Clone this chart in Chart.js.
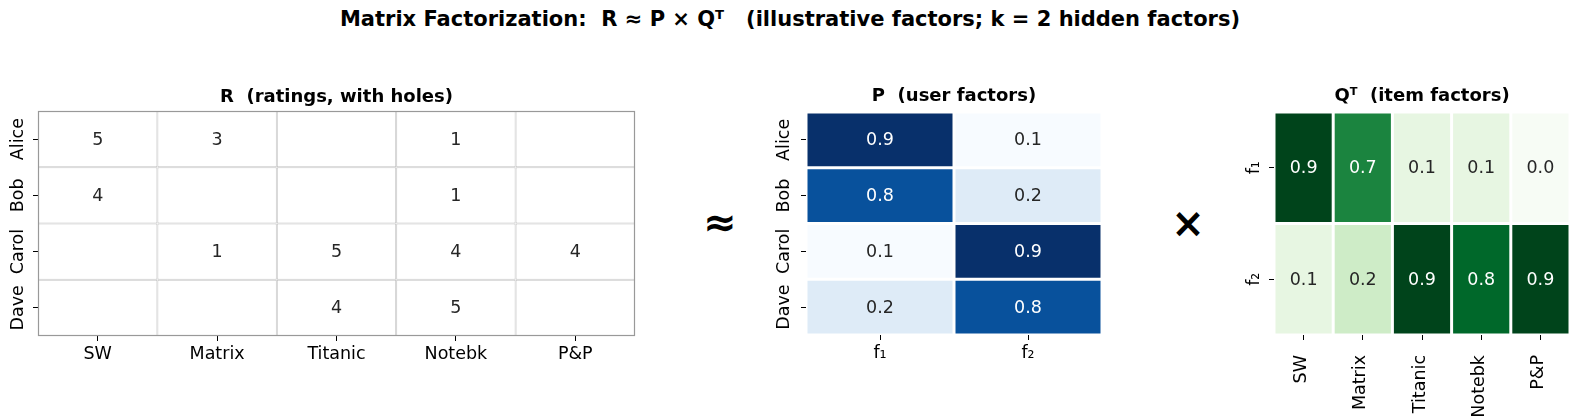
<!DOCTYPE html>
<html>
<head>
<meta charset="utf-8">
<script src="https://cdn.jsdelivr.net/npm/chart.js@4"></script>
<style>
  body { margin: 0; background: #fff; }
  #fig { position: relative; width: 1580px; height: 420px; font-family: "DejaVu Sans", sans-serif; color: #000; }
  .panel { position: absolute; top: 60px; }
  .suptitle { position: absolute; left: 0; top: 7px; width: 1580px; text-align: center; font-weight: bold; font-size: 21px; line-height: 24px; white-space: pre; }
  .op { position: absolute; transform: translate(-50%, -50%); font-weight: bold; font-size: 40px; line-height: 1; }
</style>
</head>
<body>
<div id="fig">
  <div class="suptitle">Matrix Factorization:  R ≈ P × Qᵀ   (illustrative factors; k = 2 hidden factors)</div>
  <div class="op" style="left:720px; top:222px;">≈</div>
  <div class="op" style="left:1188px; top:223px;">×</div>
  <canvas id="rChart" class="panel" width="660" height="360" style="left:0px"></canvas>
  <canvas id="pChart" class="panel" width="440" height="360" style="left:680px"></canvas>
  <canvas id="qChart" class="panel" width="440" height="360" style="left:1140px"></canvas>
</div>
<script>
// Data
const items = ['SW', 'Matrix', 'Titanic', 'Notebk', 'P&P'];
const users = ['Alice', 'Bob', 'Carol', 'Dave'];
const factors = ['f₁', 'f₂'];

// R: observed ratings, null = hole
const ratingsAlice = [5, 3, null, 1, null];
const ratingsBob   = [4, null, null, 1, null];
const ratingsCarol = [null, 1, 5, 4, 4];
const ratingsDave  = [null, null, 4, 5, null];

// P: user factors (f1, f2)
const pAlice = [0.9, 0.1];
const pBob   = [0.8, 0.2];
const pCarol = [0.1, 0.9];
const pDave  = [0.2, 0.8];

// Q transposed: item factors per factor row
const qF1 = [0.9, 0.7, 0.1, 0.1, 0.0];
const qF2 = [0.1, 0.2, 0.9, 0.8, 0.9];

// colormaps (matplotlib Blues / Greens stops)
const BLUES = ['#f7fbff', '#deebf7', '#c6dbef', '#9ecae1', '#6baed6', '#4292c6', '#2171b5', '#08519c', '#08306b'];
const GREENS = ['#f7fcf5', '#e5f5e0', '#c7e9c0', '#a1d99b', '#74c476', '#41ab5d', '#238b45', '#006d2c', '#00441b'];

function hexToRgb(h) {
  return [1, 3, 5].map(i => parseInt(h.slice(i, i + 2), 16));
}

function cmap(stops, vmin, vmax) {
  return v => {
    let t = (v - vmin) / (vmax - vmin);
    t = Math.max(0, Math.min(1, t));
    const pos = t * (stops.length - 1);
    const i = Math.min(Math.floor(pos), stops.length - 2);
    const f = pos - i;
    const a = hexToRgb(stops[i]), b = hexToRgb(stops[i + 1]);
    return a.map((c, k) => Math.round(c + (b[k] - c) * f));
  };
}

function luminance(rgb) {
  const c = rgb.map(v => {
    v /= 255;
    return v <= 0.03928 ? v / 12.92 : Math.pow((v + 0.055) / 1.055, 2.4);
  });
  return 0.2126 * c[0] + 0.7152 * c[1] + 0.0722 * c[2];
}

const rgbStr = rgb => `rgb(${rgb[0]}, ${rgb[1]}, ${rgb[2]})`;

const FONT = '"DejaVu Sans", sans-serif';

// draws the numbers inside the cells
const annotate = {
  id: 'annotate',
  afterDatasetsDraw(chart) {
    const ctx = chart.ctx;
    ctx.save();
    ctx.font = `17.5px ${FONT}`;
    ctx.textAlign = 'center';
    ctx.textBaseline = 'middle';
    chart.data.datasets.forEach((ds, i) => {
      chart.getDatasetMeta(i).data.forEach((bar, j) => {
        const txt = ds.cellText[j];
        if (!txt) return;
        ctx.fillStyle = ds.cellTextColor[j];
        ctx.fillText(txt, bar.x, (bar.y + bar.base) / 2 + 1);
      });
    });
    ctx.restore();
  }
};

// outer frame (only for R)
const frame = {
  id: 'frame',
  afterDatasetsDraw(chart, args, opts) {
    if (!opts.color) return;
    const { left, top, right, bottom } = chart.chartArea;
    const ctx = chart.ctx;
    ctx.save();
    ctx.strokeStyle = opts.color;
    ctx.lineWidth = 1.2;
    ctx.strokeRect(left + 0.5, top + 0.5, right - left - 1, bottom - top - 1);
    ctx.restore();
  }
};

function heatmap(id, cfg) {
  const { rows, cols, matrix, color, fmt, title, gap, gapColor, frameColor,
    yWidth, yPad, xHeight, xRot, xPad, xShift, padRight, titlePad } = cfg;

  const datasets = matrix.map((vals, r) => {
    const fills = vals.map(v => color(v));
    return {
      data: cols.map(() => [r, r + 1]),
      backgroundColor: fills.map(rgbStr),
      borderColor: gapColor,
      borderWidth: gap,
      borderSkipped: false,
      inflateAmount: 0,
      barPercentage: 1,
      categoryPercentage: 1,
      grouped: false,
      cellText: vals.map(v => (v == null ? '' : fmt(v))),
      cellTextColor: fills.map(c => (luminance(c) > 0.408 ? '#262626' : '#ffffff'))
    };
  });

  const tickFont = { family: FONT, size: 17.5 };

  new Chart(document.getElementById(id), {
    type: 'bar',
    data: { labels: cols, datasets },
    options: {
      responsive: false,
      animation: false,
      layout: { padding: { left: 0, right: padRight, top: 0, bottom: 0 } },
      plugins: {
        legend: { display: false },
        tooltip: { enabled: false },
        title: {
          display: true,
          fullSize: false,
          text: title,
          color: '#000',
          font: { family: FONT, size: 18, weight: 'bold' },
          padding: titlePad
        },
        frame: { color: frameColor }
      },
      scales: {
        x: {
          type: 'category',
          offset: true,
          grid: { display: true, drawOnChartArea: false, offset: false, tickLength: 5, tickWidth: 1, tickColor: '#000' },
          border: { display: false },
          ticks: {
            color: '#000', font: tickFont, padding: xPad, labelOffset: xShift,
            autoSkip: false, minRotation: xRot, maxRotation: xRot
          },
          afterFit: s => { s.height = xHeight; }
        },
        y: {
          type: 'linear',
          min: 0,
          max: rows.length,
          reverse: true,
          afterBuildTicks: s => { s.ticks = rows.map((_, i) => ({ value: i + 0.5 })); },
          grid: { display: true, drawOnChartArea: false, tickLength: 5, tickWidth: 1, tickColor: '#000' },
          border: { display: false },
          ticks: {
            color: '#000', font: tickFont, padding: yPad, crossAlign: 'center',
            minRotation: 90, maxRotation: 90,
            callback: (v, i) => rows[i]
          },
          afterFit: s => { s.width = yWidth; }
        }
      }
    },
    plugins: [annotate, frame]
  });
}

heatmap('rChart', {
  rows: users, cols: items,
  matrix: [ratingsAlice, ratingsBob, ratingsCarol, ratingsDave],
  color: () => [255, 255, 255],
  fmt: v => String(v),
  title: 'R  (ratings, with holes)',
  gap: 1, gapColor: '#c4c4c4', frameColor: '#999999',
  yWidth: 38, yPad: -8, xHeight: 84, xRot: 0, xPad: 3, xShift: 0, padRight: 25,
  titlePad: { top: 26.2, bottom: 3.2 }
});

heatmap('pChart', {
  rows: users, cols: factors,
  matrix: [pAlice, pBob, pCarol, pDave],
  color: cmap(BLUES, 0.1, 0.9),
  fmt: v => v.toFixed(1),
  title: 'P  (user factors)',
  gap: 1.5, gapColor: '#ffffff', frameColor: null,
  yWidth: 126, yPad: -6.5, xHeight: 85, xRot: 0, xPad: 3, xShift: 0, padRight: 18,
  titlePad: { top: 25.9, bottom: 4.5 }
});

heatmap('qChart', {
  rows: factors, cols: items,
  matrix: [qF1, qF2],
  color: cmap(GREENS, 0.0, 0.9),
  fmt: v => v.toFixed(1),
  title: 'Qᵀ  (item factors)',
  gap: 1.5, gapColor: '#ffffff', frameColor: null,
  yWidth: 134, yPad: 8, xHeight: 85, xRot: 90, xPad: 15, xShift: -2, padRight: 10,
  titlePad: { top: 25.9, bottom: 4.5 }
});
</script>
</body>
</html>
